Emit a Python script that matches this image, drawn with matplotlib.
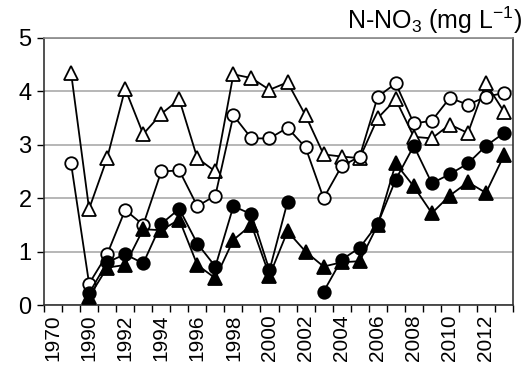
import numpy as np
import matplotlib
matplotlib.use("Agg")
import matplotlib.pyplot as plt

plt.rcParams["font.family"] = ["Liberation Sans", "DejaVu Sans"]
plt.rcParams["mathtext.default"] = "regular"

years = ["1970", "1989"] + [str(y) for y in range(1990, 2014)]
nan = np.nan
open_tri = [nan, 4.35, 1.80, 2.75, 4.05, 3.20, 3.58, 3.85, 2.75, 2.50, 4.32, 4.25, 4.03, 4.17,
            3.55, 2.82, 2.78, 2.75, 3.50, 3.85, 3.15, 3.12, 3.38, 3.22, 4.15, 3.62]
open_circ = [nan, 2.65, 0.40, 0.95, 1.78, 1.50, 2.50, 2.52, 1.85, 2.05, 3.55, 3.12, 3.12, 3.32,
             2.95, 2.00, 2.60, 2.78, 3.90, 4.15, 3.40, 3.45, 3.88, 3.75, 3.90, 3.97]
filled_circ = [nan, nan, 0.22, 0.80, 0.95, 0.78, 1.52, 1.80, 1.15, 0.72, 1.85, 1.70, 0.65, 1.93,
               nan, 0.25, 0.85, 1.07, 1.52, 2.35, 2.98, 2.28, 2.45, 2.65, 2.98, 3.22]
filled_tri = [nan, nan, 0.15, 0.70, 0.75, 1.42, 1.40, 1.60, 0.75, 0.50, 1.22, 1.50, 0.55, 1.38,
              1.00, 0.72, 0.80, 0.82, 1.50, 2.65, 2.22, 1.72, 2.05, 2.30, 2.10, 2.80]

fig = plt.figure(figsize=(5.25, 3.69), dpi=100)
ax = fig.add_axes([44/525, 1 - 305/369, (513-44)/525, (305-38)/369])

x = np.arange(len(years))
common = dict(color="black", lw=1.3, mew=1.3, clip_on=False)
ax.plot(x, open_tri, marker="^", ms=10, mfc="white", mec="black", zorder=3, **common)
ax.plot(x, open_circ, marker="o", ms=9, mfc="white", mec="black", zorder=4, **common)
ax.plot(x, filled_tri, marker="^", ms=10, mfc="black", mec="black", zorder=5, **common)
ax.plot(x, filled_circ, marker="o", ms=9, mfc="black", mec="black", zorder=6, **common)

ax.set_xlim(-0.5, len(years) - 0.5)
ax.set_ylim(0, 5)
ax.set_yticks([0, 1, 2, 3, 4, 5])
ax.tick_params(axis="y", labelsize=17, length=5, width=1, direction="out", pad=4)
ax.set_xticks(np.arange(len(years) + 1) - 0.5)
ax.set_xticklabels([])
ax.tick_params(axis="x", which="major", length=5, width=1, direction="out")
ax.set_xticks(x[::2], minor=True)
ax.set_xticklabels(years[::2], minor=True, rotation=90, fontsize=15)
ax.tick_params(axis="x", which="minor", length=0, pad=7)

ax.yaxis.grid(True, color="#aaaaaa", lw=1.2)
ax.set_axisbelow(True)
for s in ["left", "bottom", "right"]:
    ax.spines[s].set_color("#333333")
    ax.spines[s].set_linewidth(1.2)
ax.spines["top"].set_color("#888888")
ax.spines["top"].set_linewidth(1.2)

fig.text(0.995, 0.945, r"N-NO$_3$ (mg L$^{-1}$)", ha="right", va="center", fontsize=18)

fig.savefig("out.png", dpi=100)
